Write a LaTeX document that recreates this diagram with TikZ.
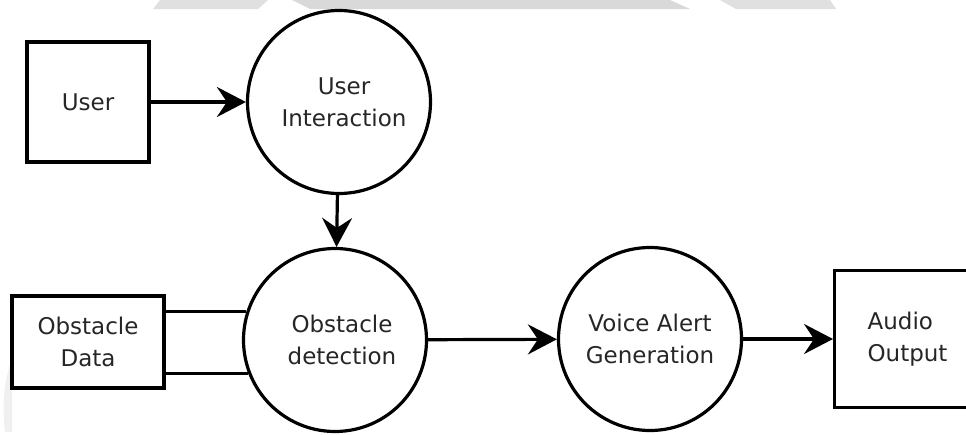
\documentclass[tikz,border=0pt]{standalone}
\usepackage{fontspec}
\setmainfont{DejaVu Sans}
\usetikzlibrary{arrows.meta}
\begin{document}
\begin{tikzpicture}[x=1pt,y=-1pt,
  lw/.style={line width=3.2pt},
  txt/.style={font=\fontsize{23}{32}\selectfont, text=black!85, align=center},
  boxnode/.style={draw, lw, rectangle, txt, inner sep=0pt},
  procnode/.style={draw, lw, circle, txt, inner sep=0pt, minimum size=183pt},
  flow/.style={lw, -{Stealth[length=29pt,width=30pt,inset=10pt]}},
  link/.style={lw},
  wmA/.style={fill=gray!24},
  wmB/.style={fill=gray!30},
  wmC/.style={fill=gray!12}]
\useasboundingbox (0,0) rectangle (966,434);
\begin{scope}
\clip (0,0) rectangle (966,434);
% faint watermark remnants
\fill[wmA] (153,9) -- (160,0) -- (268,0) -- (258,9) -- cycle;
\fill[wmB] (310,9) -- (292,0) -- (670,0) -- (690,9) -- cycle;
\fill[wmA] (736,9) -- (720,0) -- (830,0) -- (836,9) -- cycle;
\fill[wmC] (5,432) .. controls (2,405) and (4,378) .. (12,360) -- (12,432) -- cycle;

% nodes
\node[boxnode, minimum width=122pt, minimum height=120pt] (user) at (88,102) {User};
\node[procnode] (ui) at (339,102) {\hspace*{10pt}User\\\hspace*{10pt}Interaction};
\node[procnode] (od) at (335,340) {\hspace*{14pt}Obstacle\\\hspace*{14pt}detection};
\node[boxnode, minimum width=152pt, minimum height=92pt] (data) at (88,342) {Obstacle\\Data};
\node[procnode] (vag) at (650,339) {Voice Alert\\Generation};
\node[draw, lw, rectangle, txt, align=left, anchor=west, text width=100pt,
      inner xsep=33pt, inner ysep=0pt, minimum height=137pt] (audio) at (833,339) {Audio\\Output};

% connectors
\draw[flow] (user) -- (ui);
\draw[flow] (ui) -- (od);
\draw[flow] (od) -- (vag);
\draw[flow] (vag.east) -- (audio.west);
\draw[link] (data.east |- od.162) -- (od.162);
\draw[link] (data.east |- od.201) -- (od.201);
\end{scope}
\end{tikzpicture}
\end{document}
